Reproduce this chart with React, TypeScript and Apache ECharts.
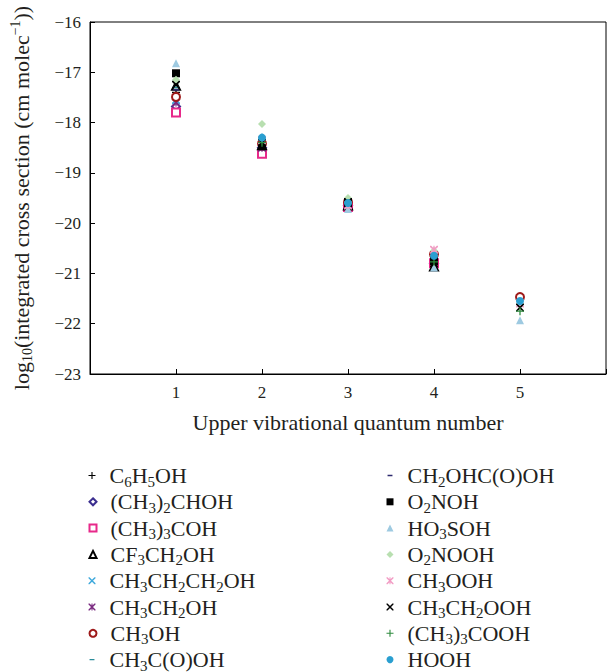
import React, { useEffect, useRef } from 'react';
import * as echarts from 'echarts';

const quanta = [1, 2, 3, 4, 5];
const xTickLabels = ['1', '2', '3', '4', '5'];
const yTicks = [-23, -22, -21, -20, -19, -18, -17, -16];

const vC6H5OH = [-17.4, -18.4, -19.62, -20.75, null];
const vIsopropanol = [-17.68, -18.5, -19.65, -20.8, null];
const vTertButanol = [-17.8, -18.62, -19.68, -20.8, null];
const vCF3CH2OH = [-17.27, -18.45, -19.65, -20.86, null];
const vPropanol = [-17.55, -18.35, -19.6, -20.7, null];
const vEthanol = [-17.6, -18.5, -19.63, -20.74, null];
const vMethanol = [-17.49, -18.42, -19.58, -20.62, -21.47];
const vAcetic = [-17.3, -18.3, -19.55, -20.7, null];
const vGlycolic = [-17.35, -18.4, -19.6, -20.75, null];
const vO2NOH = [-17.02, -18.47, -19.6, -20.76, null];
const vHO3SOH = [-16.82, -18.28, -19.72, -20.88, -21.93];
const vO2NOOH = [-17.15, -18.03, -19.5, -20.55, null];
const vCH3OOH = [null, -18.35, -19.65, -20.53, -21.6];
const vCH3CH2OOH = [-17.25, -18.4, -19.58, -20.8, -21.68];
const vTBHP = [null, -18.4, -19.6, -20.77, -21.75];
const vHOOH = [null, -18.3, -19.6, -20.65, -21.55];

const seriesNames = [
  'C6H5OH', '(CH3)2CHOH', '(CH3)3COH', 'CF3CH2OH', 'CH3CH2CH2OH', 'CH3CH2OH', 'CH3OH', 'CH3C(O)OH',
  'CH2OHC(O)OH', 'O2NOH', 'HO3SOH', 'O2NOOH', 'CH3OOH', 'CH3CH2OOH', '(CH3)3COOH', 'HOOH',
];
const seriesValues = [
  vC6H5OH, vIsopropanol, vTertButanol, vCF3CH2OH, vPropanol, vEthanol, vMethanol, vAcetic,
  vGlycolic, vO2NOH, vHO3SOH, vO2NOOH, vCH3OOH, vCH3CH2OOH, vTBHP, vHOOH,
];
const seriesColors = [
  '#000000', '#3b2e8f', '#e7298a', '#000000', '#3fa9dc', '#7a2a80', '#9e1a1a', '#2a8c9a',
  '#2d2a6e', '#000000', '#9ecae1', '#b8dfb0', '#f29cc4', '#000000', '#2e8b3e', '#2a9fd0',
];

const PLUS = 'path://M4.2,0H5.8V4.2H10V5.8H5.8V10H4.2V5.8H0V4.2H4.2Z';
const CROSS = 'path://M0,1.5L0,0L1.5,0L10,8.5L10,10L8.5,10Z M8.5,0L10,0L10,1.5L1.5,10L0,10L0,8.5Z';
const STAR = 'path://M0,1.5L0,0L1.5,0L10,8.5L10,10L8.5,10Z M8.5,0L10,0L10,1.5L1.5,10L0,10L0,8.5Z M4.25,0H5.75V10H4.25Z';
const DASH = 'path://M0,0h0.01v0.01h-0.01z M9.99,9.99h0.01v0.01h-0.01z M1.5,4H8.5V6H1.5Z';

const seriesSymbols = [
  PLUS, 'emptyDiamond', 'emptyRect', 'emptyTriangle', CROSS, STAR, 'emptyCircle', DASH,
  DASH, 'rect', 'triangle', 'diamond', STAR, CROSS, PLUS, 'circle',
];

const FONT = "'Liberation Serif', 'Times New Roman', serif";
const TEXT = '#231f20';

const toRich = (name: string) =>
  '{g| }' +
  name
    .split(/(\d+)/)
    .filter((p) => p.length > 0)
    .map((p) => (/^\d+$/.test(p) ? `{s|${p}}` : `{n|${p}}`))
    .join('');

const legendRich = {
  g: { width: 9 },
  n: { fontSize: 22, lineHeight: 20, fontFamily: FONT, color: TEXT },
  s: { fontSize: 15, lineHeight: 27, verticalAlign: 'bottom', fontFamily: FONT, color: TEXT },
};

export default function App() {
  const ref = useRef<HTMLDivElement>(null);
  useEffect(() => {
    document.body.style.margin = '0';
    const chart = echarts.init(ref.current!, undefined, { renderer: 'svg' });
    const series = seriesNames.map((name, i) => ({
      type: 'scatter',
      name,
      symbol: seriesSymbols[i],
      symbolSize: 8,
      itemStyle: { color: seriesColors[i], opacity: 1 },
      data: quanta
        .map((q, j) => [q, seriesValues[i][j]])
        .filter((d) => d[1] !== null),
      z: 2 + i,
    }));
    const legends = seriesNames.map((name, i) => ({
      data: [name],
      left: i < 8 ? 88.5 : 386.5,
      top: 464.5 + (i % 8) * 26.3,
      orient: 'horizontal',
      padding: 0,
      itemWidth: 7,
      itemHeight: 7,
      selectedMode: false,
      formatter: toRich,
      textStyle: { rich: legendRich, fontFamily: FONT, color: TEXT },
    }));
    chart.setOption({
      animation: false,
      backgroundColor: '#ffffff',
      grid: {
        left: 87,
        top: 22,
        width: 528,
        height: 352,
        show: true,
        borderColor: '#000',
        borderWidth: 1,
      },
      legend: legends,
      xAxis: {
        type: 'value',
        min: 0,
        max: 6,
        interval: 1,
        splitLine: { show: false },
        axisLine: { show: true, lineStyle: { color: '#000', width: 1 } },
        axisTick: { show: true, inside: true, length: 5, lineStyle: { color: '#000' } },
        axisLabel: {
          fontSize: 17,
          fontFamily: FONT,
          color: TEXT,
          margin: 10,
          formatter: (v: number) => (v >= 1 && v <= 5 ? xTickLabels[v - 1] : ''),
        },
        name: 'Upper vibrational quantum number',
        nameLocation: 'middle',
        nameGap: 37,
        nameTextStyle: { fontSize: 22, fontFamily: FONT, color: TEXT },
      },
      yAxis: {
        type: 'value',
        min: yTicks[0],
        max: yTicks[yTicks.length - 1],
        interval: 1,
        splitLine: { show: false },
        axisLine: { show: true, lineStyle: { color: '#000', width: 1 } },
        axisTick: { show: true, inside: true, length: 5, lineStyle: { color: '#000' } },
        axisLabel: {
          fontSize: 17,
          fontFamily: FONT,
          color: TEXT,
          margin: 9,
          formatter: (v: number) => (v < 0 ? '\u2212' + Math.abs(v) : String(v)),
        },
        name: '{n|log}{s|10}{n|(integrated cross section (cm molec}{p|\u22121}{n|))}',
        nameLocation: 'middle',
        nameGap: 56,
        nameTextStyle: {
          fontFamily: FONT,
          color: TEXT,
          rich: {
            n: { fontSize: 22, lineHeight: 20, fontFamily: FONT, color: TEXT },
            s: { fontSize: 14, lineHeight: 26, verticalAlign: 'bottom', fontFamily: FONT, color: TEXT },
            p: { fontSize: 14, lineHeight: 26, verticalAlign: 'top', fontFamily: FONT, color: TEXT },
          },
        },
      },
      series,
    });
    return () => chart.dispose();
  }, []);
  return <div ref={ref} style={{ width: 609, height: 672 }} />;
}
